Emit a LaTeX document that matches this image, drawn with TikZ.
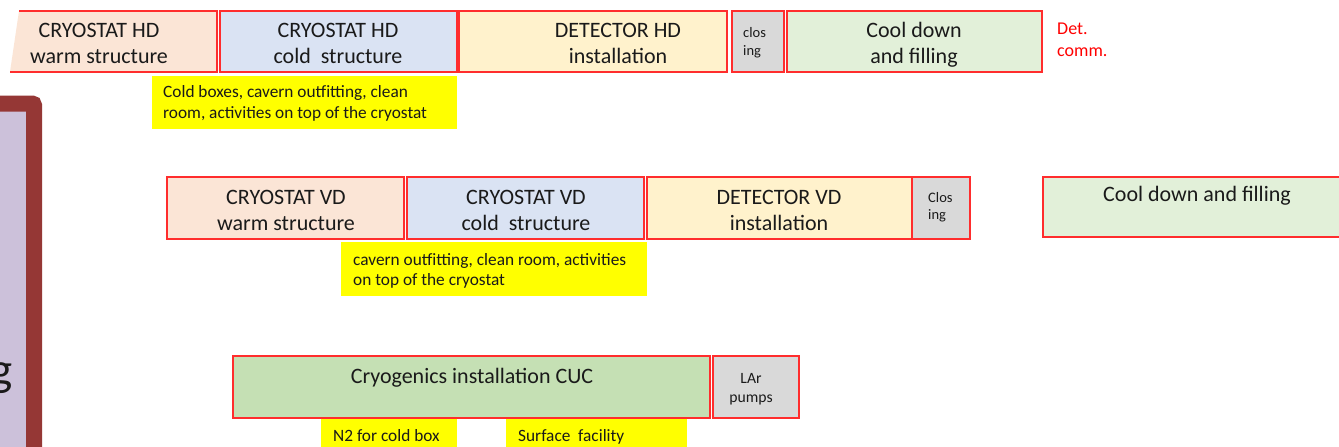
\documentclass[tikz,border=0pt]{standalone}
\usepackage{fontspec}
\setmainfont{Carlito}
\definecolor{bord}{RGB}{255,45,45}
\definecolor{warmc}{HTML}{FBE5D6}
\definecolor{coldc}{HTML}{DAE3F3}
\definecolor{detc}{HTML}{FFF2CC}
\definecolor{closc}{HTML}{D9D9D9}
\definecolor{coolc}{HTML}{E2F0D9}
\definecolor{cryoc}{HTML}{C5E0B4}
\definecolor{hlc}{HTML}{FFFF00}
\definecolor{lilacc}{HTML}{CCC1DA}
\definecolor{framec}{HTML}{953735}
\definecolor{inkc}{HTML}{1A1A1A}
\newcommand\gbox[7]{\node[#7,fill=#2,anchor=north west,inner sep=0pt,outer sep=0pt,
  minimum width={(#5-#3)*1pt},minimum height={(#6-#4)*1pt}] (#1) at (#3,#4) {};}
\tikzset{
  redbox/.style={draw=bord,line width=1.7pt},
  hlbox/.style={draw=none},
  bigtxt/.style={font=\fontsize{22}{26}\selectfont,align=center,inner sep=0pt,text=inkc,anchor=base},
  smalltxt/.style={font=\fontsize{14.5}{18}\selectfont,align=left,inner sep=0pt,text=inkc,anchor=base west},
  notetxt/.style={font=\fontsize{17.3}{21}\selectfont,align=left,inner sep=0pt,text=inkc,anchor=base west},
}
\begin{document}
\begin{tikzpicture}[x=1pt,y=-1pt]
\clip (0,0) rectangle (1339,447);
\fill[white] (0,0) rectangle (1339,447);
% left framed panel
\draw[framec,line width=16pt,fill=lilacc,rounded corners=2pt] (-100,103.5) -- (34,103.5) -- (34,700) -- (-100,700);
\node[font=\fontsize{47}{50}\selectfont,text=inkc,inner sep=0pt,anchor=base east] (gl) at (13,385) {g};
% ---- row HD
\fill[warmc] (19,11) -- (217,11) -- (217,72) -- (10,72) -- cycle;
\draw[bord,line width=1.7pt] (19,11) -- (217,11) -- (217,72) -- (10,72);
\node[bigtxt] (hdwt) at (99,63.5) {CRYOSTAT HD\\warm structure};
\gbox{hdc}{coldc}{220}{11}{457}{72}{redbox}
\node[bigtxt] (hdct) at (338,63.5) {CRYOSTAT HD\\cold~~structure};
\gbox{hdd}{detc}{459}{11}{727}{72}{redbox}
\node[bigtxt] (hddt) at (618,63.5) {DETECTOR HD\\installation};
\gbox{hdcl}{closc}{732}{11}{784}{72}{redbox}
\node[smalltxt] (hdclt) at (743,55) {clos\\ing};
\gbox{hdcool}{coolc}{787}{11}{1042}{72}{redbox}
\node[bigtxt] (hdcoolt) at (914,63.5) {Cool down\\and filling};
\node[font=\fontsize{18}{22.4}\selectfont,align=left,inner sep=0pt,text=red,anchor=base west] (detcomm) at (1057,56.7) {Det.\\comm.};
\gbox{y1}{hlc}{152}{76}{457}{129}{hlbox}
\node[notetxt] (y1t) at (163,118.5) {Cold boxes, cavern outfitting, clean\\room, activities on top of the cryostat};
% ---- row VD
\gbox{vdw}{warmc}{167}{177}{404}{239}{redbox}
\node[bigtxt] (vdwt) at (286,230.3) {CRYOSTAT VD\\warm structure};
\gbox{vdc}{coldc}{407}{177}{644}{239}{redbox}
\node[bigtxt] (vdct) at (526,230.3) {CRYOSTAT VD\\cold~~structure};
\gbox{vdd}{detc}{647}{177}{912}{239}{redbox}
\node[bigtxt] (vddt) at (779,230.3) {DETECTOR VD\\installation};
\gbox{vdcl}{closc}{912}{177}{970}{239}{redbox}
\node[smalltxt,font=\fontsize{14.5}{17.3}\selectfont] (vdclt) at (928,219.5) {Clos\\ing};
\gbox{vdcool}{coolc}{1043}{177}{1360}{237}{redbox}
\node[bigtxt] (vdcoolt) at (1197,201.7) {Cool down and filling};
\gbox{y2}{hlc}{341}{242}{647}{296}{hlbox}
\node[notetxt,font=\fontsize{17.3}{20}\selectfont] (y2t) at (353,285) {cavern outfitting, clean room, activities\\on top of the cryostat};
% ---- row cryogenics
\gbox{cryo}{cryoc}{233}{356}{710}{418}{redbox}
\node[bigtxt] (cryot) at (472,383) {Cryogenics installation CUC};
\gbox{lar}{closc}{713}{356}{799}{418}{redbox}
\node[font=\fontsize{15.7}{19.4}\selectfont,align=center,inner sep=0pt,text=inkc,anchor=base] (lart) at (751,402.7) {LAr\\pumps};
\gbox{n2}{hlc}{321}{419}{457}{460}{hlbox}
\node[notetxt] (n2t) at (333,441.7) {N2 for cold box};
\gbox{surf}{hlc}{506}{419}{687}{460}{hlbox}
\node[notetxt] (surft) at (518,441.7) {Surface~~facility};
\end{tikzpicture}
\end{document}
